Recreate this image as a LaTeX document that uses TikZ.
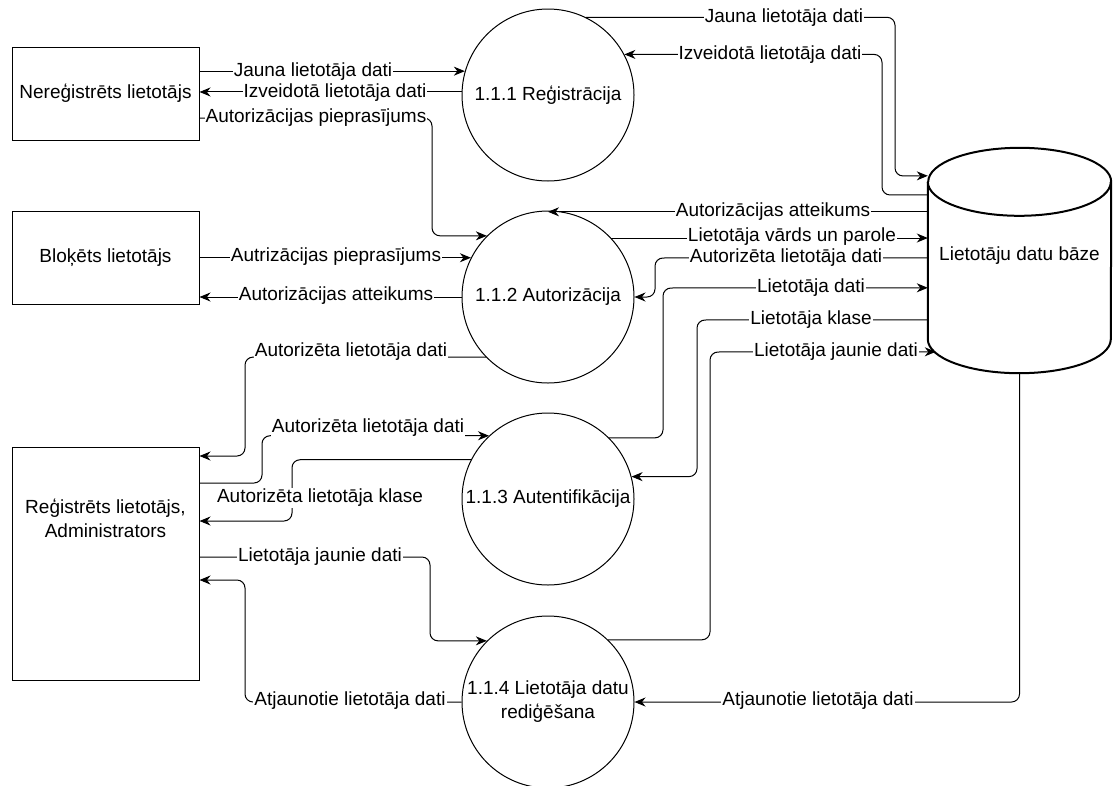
\documentclass[tikz,border=0pt]{standalone}
\usepackage{fontspec}
\setmainfont{Liberation Sans}
\usetikzlibrary{arrows.meta,calc}
\begin{document}
\begin{tikzpicture}[x=1pt,y=-1pt,
  every node/.style={font=\fontsize{19}{24}\selectfont, text=black},
  ent/.style={draw, line width=1pt, fill=white, minimum width=187pt, minimum height=93pt, inner sep=0pt, align=center},
  proc/.style={draw, circle, line width=1pt, fill=white, minimum size=172pt, inner sep=0pt, align=center},
  flow/.style={line width=1pt, rounded corners=8pt, -{Stealth[length=11pt,width=9pt,inset=3.5pt]}},
  lbl/.style={fill=white, inner sep=1pt},
]
\useasboundingbox (0,0) rectangle (1113,785);

% external entities
\node[ent] (nereg) at (105.5,93.5) {Nereģistrēts lietotājs};
\node[ent] (bloc) at (105.5,257.5) {Bloķēts lietotājs};
\node[ent, minimum height=233pt] (reg) at (105.5,563.5) {};
\node[align=center] (regt) at (105.5,518) {Reģistrēts lietotājs,\\Administrators};

% processes
\node[proc] (c1) at (548,95) {1.1.1 Reģistrācija};
\node[proc] (c2) at (548,297) {1.1.2 Autorizācija};
\node[proc] (c3) at (548,499) {1.1.3 Autentifikācija};
\node[proc] (c4) at (548,702) {1.1.4 Lietotāja datu\\rediģēšana};

% data store (cylinder)
\node[minimum width=183pt, minimum height=225pt, inner sep=0pt] (db) at (1019.5,260.5) {};
\draw[line width=2pt, fill=white]
  ($(db.north west)+(0,34)$) -- ($(db.south west)+(0,-34)$)
  arc[start angle=180, end angle=360, x radius=91.5pt, y radius=34pt]
  -- ($(db.north east)+(0,34)$)
  arc[start angle=0, end angle=180, x radius=91.5pt, y radius=34pt];
\draw[line width=2pt] ($(db.north west)+(0,34)$)
  arc[start angle=180, end angle=360, x radius=91.5pt, y radius=34pt];
\node (dbt) at (1019.5,256) {Lietotāju datu bāze};

% points on the data store side
\coordinate (d4) at ($(db.north west)+(0,28)$);
\coordinate (d5) at ($(db.north west)+(0,47)$);
\coordinate (d8) at ($(db.north west)+(0,64)$);
\coordinate (d10) at ($(db.north west)+(0,110)$);
\coordinate (d11) at ($(db.north west)+(0,140)$);
\coordinate (d12) at ($(db.north west)+(0,172)$);
\coordinate (d13) at ($(db.north west)+(8,204)$);

% bend points
\coordinate (k3) at (432,118);
\coordinate (k4) at (895,176);
\coordinate (k5) at (882,195);
\coordinate (k10) at (655,258);
\coordinate (k11) at (663,288);
\coordinate (k12) at (697,320);
\coordinate (k13) at (710,352);
\coordinate (k14) at (245,456);
\coordinate (k15) at (262,483);
\coordinate (k16) at (292,521);
\coordinate (k17) at (430,557);
\coordinate (k18) at (245,580);

% data flows
\draw[flow] (nereg.east |- c1.164.5) -- (c1.164.5);
\draw[flow] (c1.178.7) -- (c1.178.7 -| nereg.east);
\draw[flow] (k3 -| nereg.east) -- (k3) |- (c2.135.5);
\draw[flow] (c1.64.3) -| (k4) -- (d4);
\draw[flow] (d5) -- (k5) |- (c1.28);
\draw[flow] (bloc.east |- c2.153) -- (c2.153);
\draw[flow] (c2.west) -- (c2.west -| bloc.east);
\draw[flow] (d8) -- (d8 -| c2.north);
\draw[flow] (c2.43.2) -- (c2.43.2 -| db.west);
\draw[flow] (d10) -- (k10) |- (c2.east);
\draw[flow] (c3.45.5) -| (k11) -- (d11);
\draw[flow] (d12) -- (k12) |- (c3.15.5);
\draw[flow] (c4.46.8) -| (k13) -- (d13);
\draw[flow] (c2.224) -| (k14) -- (k14 -| reg.east);
\draw[flow] (k15 -| reg.east) -- (k15) |- (c3.133.5);
\draw[flow] (c3.153) -| (k16) -- (k16 -| reg.east);
\draw[flow] (k17 -| reg.east) -- (k17) |- (c4.135.5);
\draw[flow] (c4.west) -| (k18) -- (k18 -| reg.east);
\draw[flow] (db.south) |- (c4.east);

% flow labels
\node[lbl] (l1) at (313,72) {Jauna lietotāja dati};
\node[lbl] (l2) at (335,93) {Izveidotā lietotāja dati};
\node[lbl] (l3) at (316,118) {Autorizācijas pieprasījums};
\node[lbl] (l4) at (784,18) {Jauna lietotāja dati};
\node[lbl] (l5) at (770,55) {Izveidotā lietotāja dati};
\node[lbl] (l6) at (336,257) {Autrizācijas pieprasījums};
\node[lbl] (l7) at (336,296) {Autorizācijas atteikums};
\node[lbl] (l8) at (773,212) {Autorizācijas atteikums};
\node[lbl] (l9) at (792,237) {Lietotāja vārds un parole};
\node[lbl] (l10) at (786,258) {Autorizēta lietotāja dati};
\node[lbl] (l11) at (811,288) {Lietotāja dati};
\node[lbl] (l12) at (811,320) {Lietotāja klase};
\node[lbl] (l13) at (836,352) {Lietotāja jaunie dati};
\node[lbl] (l14) at (351,352) {Autorizēta lietotāja dati};
\node[lbl] (l15) at (368,428) {Autorizēta lietotāja dati};
\node[lbl] (l16) at (320,498) {Autorizēta lietotāja klase};
\node[lbl] (l17) at (320,557) {Lietotāja jaunie dati};
\node[lbl] (l18) at (350,701) {Atjaunotie lietotāja dati};
\node[lbl] (l19) at (818,701) {Atjaunotie lietotāja dati};
\end{tikzpicture}
\end{document}
